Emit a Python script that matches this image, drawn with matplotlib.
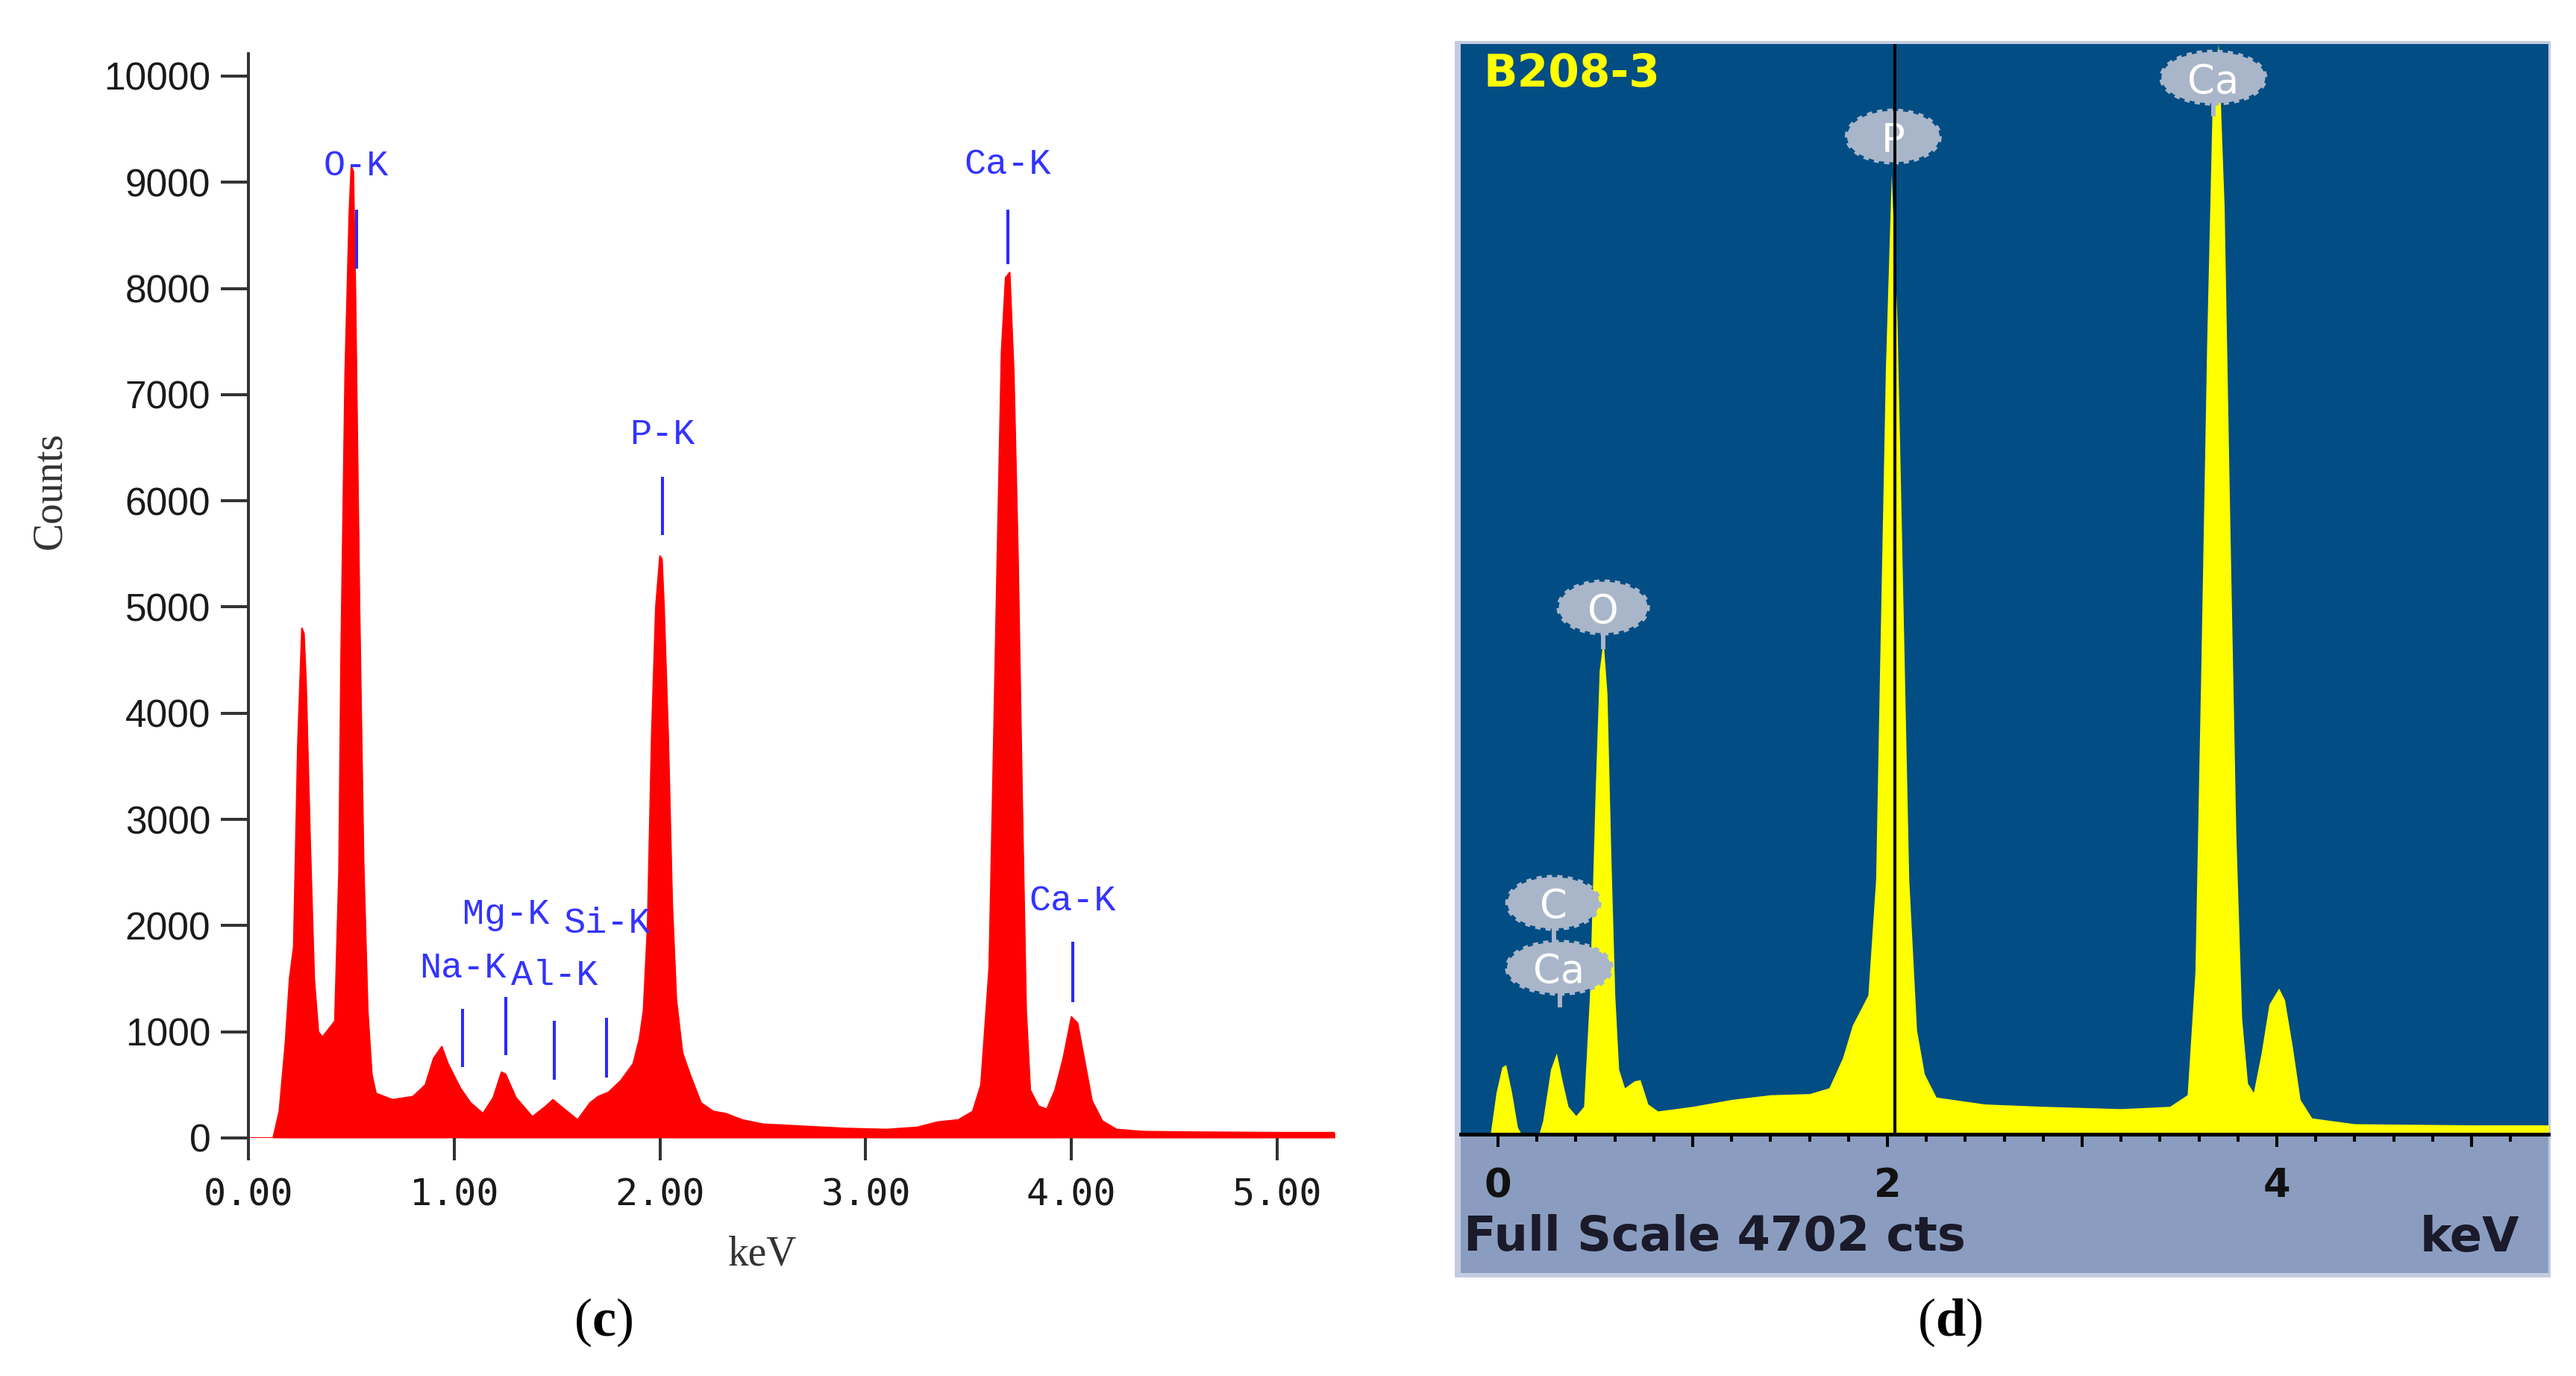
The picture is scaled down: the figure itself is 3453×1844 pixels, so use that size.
import matplotlib
matplotlib.use('Agg')
import matplotlib.pyplot as plt
from matplotlib.patches import Rectangle, Ellipse
from matplotlib.ticker import MultipleLocator

plt.rcParams['mathtext.fontset'] = 'custom'
plt.rcParams['mathtext.rm'] = 'Liberation Serif'
plt.rcParams['mathtext.bf'] = 'Liberation Serif:bold'

# ---- panel (c): EDS spectrum, counts vs keV ----
left_kev = [0.00, 0.12, 0.15, 0.18, 0.20, 0.22, 0.24, 0.26, 0.27, 0.28, 0.30, 0.32, 0.34,
            0.36, 0.38, 0.40, 0.42, 0.44, 0.45, 0.47, 0.49, 0.50, 0.51, 0.52, 0.53, 0.54,
            0.56, 0.58, 0.60, 0.62, 0.70, 0.80, 0.86, 0.90, 0.94, 0.97, 1.03, 1.08, 1.14,
            1.19, 1.23, 1.25, 1.30, 1.38, 1.44, 1.48, 1.53, 1.60, 1.66, 1.70, 1.75, 1.81,
            1.87, 1.90, 1.92, 1.94, 1.96, 1.98, 2.00, 2.01, 2.02, 2.04, 2.06, 2.08, 2.11,
            2.15, 2.20, 2.26, 2.32, 2.40, 2.50, 2.70, 2.90, 3.10, 3.25, 3.35, 3.45, 3.52,
            3.56, 3.60, 3.62, 3.64, 3.66, 3.68, 3.70, 3.72, 3.74, 3.76, 3.78, 3.80, 3.84,
            3.88, 3.92, 3.96, 4.00, 4.03, 4.06, 4.10, 4.15, 4.22, 4.35, 4.60, 5.00, 5.28]
left_counts = [0, 0, 250, 900, 1500, 1800, 3700, 4800, 4750, 4300, 2800, 1500, 1000,
               950, 1000, 1050, 1100, 2500, 4500, 7200, 8700, 9150, 9100, 8000, 6500, 5000,
               2600, 1200, 600, 420, 360, 390, 500, 750, 860, 700, 470, 330, 230,
               380, 620, 600, 380, 200, 290, 360, 280, 170, 330, 390, 430, 540,
               700, 930, 1200, 2000, 3800, 5000, 5480, 5450, 5000, 3800, 2200, 1300, 800,
               580, 330, 250, 230, 170, 130, 110, 90, 80, 100, 150, 170, 250,
               500, 1600, 3500, 5500, 7400, 8100, 8150, 7200, 5500, 3250, 1200, 450, 300,
               270, 450, 750, 1140, 1080, 770, 350, 160, 80, 60, 55, 50, 50]

peak_names = ['O-K', 'Na-K', 'Mg-K', 'Al-K', 'Si-K', 'P-K', 'Ca-K', 'Ca-K']
peak_kev = [0.525, 1.041, 1.250, 1.487, 1.740, 2.012, 3.691, 4.005]
# where the labels and marker bars sit (counts)
label_y = [9185, 1637, 2143, 1560, 2052, 6655, 9199, 2263]
bar_lo = [8187, 668, 780, 548, 569, 5678, 8229, 1279]
bar_hi = [8742, 1216, 1328, 1103, 1131, 6226, 8742, 1848]

x_ticks_c = [0, 1, 2, 3, 4, 5]
y_ticks_c = list(range(0, 10001, 1000))

# ---- panel (d): second EDS spectrum ----
right_kev = [-0.19, -0.04, -0.01, 0.02, 0.04, 0.07, 0.10, 0.12, 0.21, 0.23, 0.27, 0.30,
             0.33, 0.36, 0.40, 0.44, 0.47, 0.50, 0.52, 0.54, 0.56, 0.58, 0.60, 0.62, 0.65,
             0.70, 0.73, 0.77, 0.82, 1.00, 1.20, 1.40, 1.60, 1.70, 1.77, 1.82, 1.90, 1.94,
             1.96, 1.99, 2.02, 2.05, 2.08, 2.11, 2.15, 2.19, 2.25, 2.50, 2.80, 3.20, 3.45,
             3.54, 3.58, 3.61, 3.64, 3.67, 3.70, 3.73, 3.76, 3.79, 3.82, 3.85, 3.88, 3.92,
             3.96, 4.01, 4.04, 4.08, 4.12, 4.18, 4.40, 5.00, 5.40]
right_counts = [0, 0, 180, 290, 300, 180, 30, 0, 0, 60, 280, 350,
                230, 120, 80, 120, 600, 1500, 2000, 2130, 1900, 1200, 600, 280, 200,
                230, 235, 130, 100, 120, 150, 170, 175, 200, 330, 470, 600, 1100,
                2000, 3300, 4140, 3500, 2300, 1100, 450, 260, 160, 130, 120, 110, 120,
                170, 700, 2000, 3400, 4500, 4702, 4000, 2600, 1300, 500, 220, 180, 350,
                560, 630, 580, 380, 150, 70, 45, 40, 40]
full_scale = 4702
cursor_kev = 2.04

badge_names = ['O', 'P', 'Ca', 'C', 'Ca']
badge_kev = [0.54, 2.03, 3.674, 0.284, 0.314]
badge_y = [2272, 4303, 4557, 998, 718]
badge_w = [0.456, 0.475, 0.533, 0.471, 0.536]

W, H = 3453, 1844
fig = plt.figure(figsize=(W / 100, H / 100), dpi=100)

def fx(px):
    return px / W

def fy(py):
    return 1 - py / H

# ----------------- (c) -----------------
axL = fig.add_axes([fx(333), fy(1525), (1789 - 333) / W, (1525 - 72) / H])
axL.fill_between(left_kev, left_counts, color='#ff0000', lw=0)
axL.plot(left_kev, left_counts, color='#ff0000', lw=1.5)
axL.set_xlim(0, 5.279)
axL.set_ylim(0, 10210)
for s in ['top', 'right', 'bottom']:
    axL.spines[s].set_visible(False)
axL.spines['left'].set_color('#333333')
axL.spines['left'].set_linewidth(2.9)
axL.set_xticks(x_ticks_c)
axL.set_xticklabels([f'{v:.2f}' for v in x_ticks_c], fontfamily='DejaVu Sans Mono',
                    fontsize=36, color='#1a1a1a')
axL.set_yticks(y_ticks_c)
axL.set_yticklabels([str(v) for v in y_ticks_c], fontfamily='Liberation Sans',
                    fontsize=37, color='#1a1a1a')
axL.tick_params(axis='x', length=21.6, width=2.9, color='#333333', pad=16)
axL.tick_params(axis='y', length=26.5, width=2.9, color='#333333', pad=10)

for name, kev, ty, lo, hi in zip(peak_names, peak_kev, label_y, bar_lo, bar_hi):
    axL.plot([kev, kev], [lo, hi], color='#2a2aff', lw=2.9, solid_capstyle='butt')
    axL.text(kev, ty, name, color='#3333ff', fontfamily='Liberation Mono', fontsize=35,
             ha='center', va='center_baseline')

fig.text(fx(67), fy(657), 'Counts', rotation=90, fontfamily='Liberation Serif',
         fontsize=40, color='#333333', ha='center', va='center')
fig.text(fx(1022), fy(1681), 'keV', fontfamily='Liberation Serif', fontsize=40,
         color='#333333', ha='center', va='center')
fig.text(fx(809), fy(1772), r'$(\mathbf{c})$', fontsize=52, ha='center', va='center')

# ----------------- (d) -----------------
# light frame and grey scale bar behind the spectrum window
fig.patches.append(Rectangle((fx(1950), fy(1712)), (3419 - 1950) / W, (1712 - 55) / H,
                             transform=fig.transFigure, facecolor='#c3cbe0', lw=0, zorder=-3))
fig.patches.append(Rectangle((fx(1958), fy(1706)), (3416 - 1958) / W, (1706 - 1519) / H,
                             transform=fig.transFigure, facecolor='#8a9dc0', lw=0, zorder=-2))

axR = fig.add_axes([fx(1958), fy(1520), (3416 - 1958) / W, (1520 - 59) / H])
axR.set_zorder(1)
axR.set_facecolor('#024d84')
axR.fill_between(right_kev, right_counts, color='#ffff00', lw=0)
axR.set_xlim(-0.192, 5.395)
axR.set_ylim(0, full_scale)
for s in ['top', 'right', 'left']:
    axR.spines[s].set_visible(False)
axR.spines['bottom'].set_color('black')
axR.spines['bottom'].set_linewidth(3.6)
axR.set_yticks([])
axR.set_xticks([0, 1, 2, 3, 4, 5])
axR.set_xticklabels(['0', '', '2', '', '4', ''], fontfamily='DejaVu Sans',
                    fontweight='bold', fontsize=38, color='#111111')
axR.xaxis.set_minor_locator(MultipleLocator(0.2))
axR.tick_params(axis='x', which='major', length=12.2, width=2.9, color='black', pad=19)
axR.tick_params(axis='x', which='minor', length=7.2, width=2.9, color='black')

badge_col = '#a9b6c9'
# stems joining badges to their peaks
axR.plot([0.54, 0.54], [2100, 2161], color=badge_col, lw=4.3, zorder=3)
axR.plot([3.674, 3.674], [4400, 4445], color=badge_col, lw=4.3, zorder=3)
axR.plot([0.287, 0.287], [998, 718], color=badge_col, lw=4.3, zorder=3)
axR.plot([0.316, 0.316], [718, 557], color=badge_col, lw=4.3, zorder=3)
for name, kev, by, bw in zip(badge_names, badge_kev, badge_y, badge_w):
    axR.add_patch(Ellipse((kev, by), bw, 222, facecolor=badge_col, lw=0, zorder=4))
    axR.add_patch(Ellipse((kev, by), bw * 0.97, 210, fill=False, edgecolor=badge_col,
                          lw=7, linestyle=(0, (0.7, 0.7)), zorder=4))
    axR.text(kev, by, name, color='white', fontfamily='DejaVu Sans', fontsize=38,
             ha='center', va='center_baseline', zorder=5)

axR.axvline(cursor_kev, color='black', lw=2.9, zorder=6)

fig.text(fx(1988), fy(93), 'B208-3', color='#ffff00', fontfamily='DejaVu Sans',
         fontweight='bold', fontsize=43, ha='left', va='center_baseline', zorder=5)
fig.text(fx(1962), fy(1651), 'Full Scale 4702 cts', color='#1a1a2a',
         fontfamily='DejaVu Sans', fontweight='bold', fontsize=46, ha='left',
         va='center_baseline', zorder=3)
fig.text(fx(3377), fy(1652), 'keV', color='#1a1a2a', fontfamily='DejaVu Sans',
         fontweight='bold', fontsize=46, ha='right', va='center_baseline', zorder=3)
fig.text(fx(2614), fy(1772), r'$(\mathbf{d})$', fontsize=52, ha='center', va='center')

fig.savefig('out.png', dpi=100)
